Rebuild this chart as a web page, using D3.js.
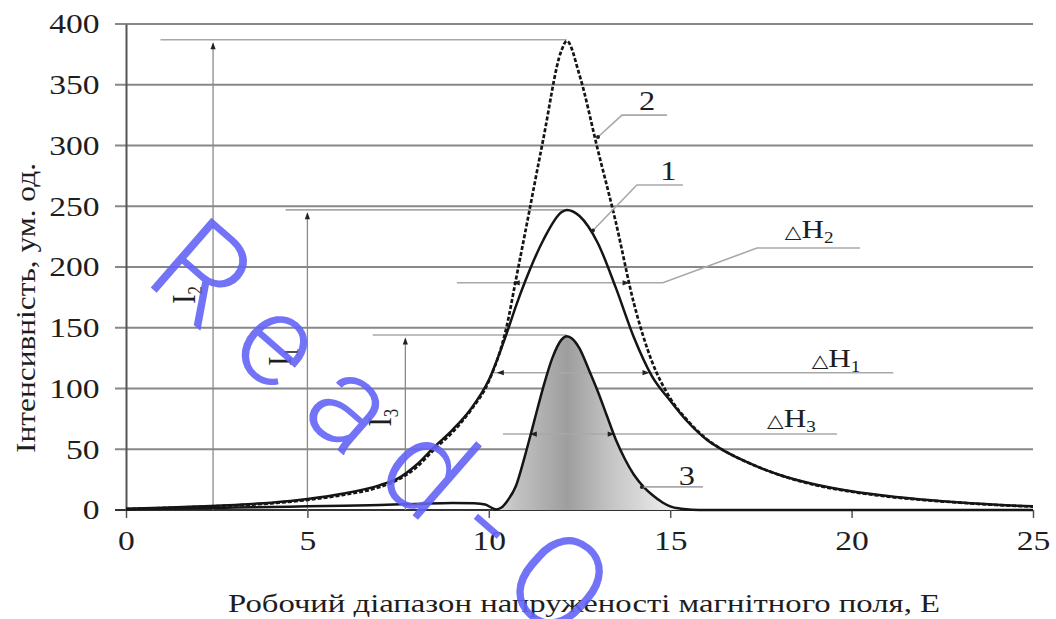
<!DOCTYPE html>
<html>
<head>
<meta charset="utf-8">
<script src="https://cdn.jsdelivr.net/npm/d3@7"></script>
<style>
  body { margin: 0; background: #fff; }
  text { font-family: "Liberation Serif", "Times New Roman", serif; fill: #1e1e1e; }
</style>
</head>
<body>
<div id="graphic"></div>
<script>
// field values (E) shared by curves 1 and 2
const fieldX = [0, 1, 2, 3, 4, 5, 6, 7, 7.5, 8, 8.5, 9, 9.5, 10, 10.5, 10.75, 11, 11.5, 12, 12.15, 12.5, 13, 13.5, 14, 14.5, 15, 15.5, 16, 16.5, 17, 17.5, 18, 19, 20, 21, 22, 23, 24, 25];
// curve 1 (solid)
const curve1 = [1, 1.8, 2.9, 4.2, 6, 9, 13.5, 20.5, 26, 37, 52, 66, 83, 107, 146, 168, 188, 222, 245, 247, 242, 220, 183, 142, 110, 90, 72, 58, 48.5, 41, 34.5, 29, 21, 15.5, 11.5, 8.5, 6.2, 4.3, 3];
// curve 2 (dashed)
const curve2 = [0.8, 1.6, 2.6, 3.8, 5.5, 8.3, 12.5, 19, 25, 35, 50, 64, 82, 106, 152, 190, 228, 305, 378, 386, 358, 297, 237, 170, 122, 92, 73, 58.5, 48.5, 41, 34.5, 29, 20.5, 15, 11, 8.2, 6, 4.1, 2.8];
// curve 3 (filled)
const field3X = [0, 1, 2, 3, 4, 5, 6, 7, 8, 9, 9.6, 9.9, 10.1, 10.2, 10.35, 10.5, 10.75, 11, 11.25, 11.5, 11.75, 12, 12.15, 12.3, 12.5, 12.75, 13, 13.25, 13.5, 13.75, 14, 14.3, 14.5, 14.8, 15, 15.3, 15.6, 16, 20, 25];
const curve3 = [0.5, 1, 1.5, 2, 2.5, 3, 3.5, 4.2, 5, 5.8, 5.5, 4.5, 1.5, 0.5, 2, 7, 20, 45, 73, 101, 125, 140, 143, 141, 133, 116, 98, 78, 58, 42, 29, 18, 12.5, 6, 3, 1, 0.2, 0, 0, 0];

const xTicks = [0, 5, 10, 15, 20, 25];
const yTicks = [0, 50, 100, 150, 200, 250, 300, 350, 400];

// peak intensities I1, I2, I3 and where their arrows stand
const peakNames = ["1", "2", "3"];
const peakValues = [247, 387, 144];
const peakX = 12.15;
const peakArrowX = [5.0, 2.4, 7.7];
const peakLineFrom = [4.4, 0.95, 6.8];
const peakLabelPos = [[4.55, 126], [1.9, 177], [7.3, 76]];

// half widths ΔH1, ΔH2, ΔH3
const halfLevel = [113, 187, 62.5];
const halfLeft = [10.22, 10.66, 11.13];
const halfRight = [14.43, 13.88, 13.47];

const margin = { top: 24, right: 23, bottom: 109, left: 126 },
  width = 1056 - margin.left - margin.right,
  height = 619 - margin.top - margin.bottom;

const svg = d3.select("#graphic").append("svg")
  .attr("width", width + margin.left + margin.right)
  .attr("height", height + margin.top + margin.bottom);

const defs = svg.append("defs");
const grad = defs.append("linearGradient")
  .attr("id", "fill3")
  .attr("gradientUnits", "userSpaceOnUse");

const g = svg.append("g")
  .attr("transform", `translate(${margin.left},${margin.top})`);

const x = d3.scaleLinear().domain([0, 25]).range([0, width]);
const y = d3.scaleLinear().domain([0, 400]).range([height, 0]);

grad.attr("x1", x(10.1)).attr("x2", x(16)).attr("y1", 0).attr("y2", 0);
[[0, "#e4e4e4"], [0.1, "#c4c4c4"], [0.35, "#9e9e9e"], [0.55, "#c4c4c4"], [0.8, "#e8e8e8"], [1, "#fcfcfc"]]
  .forEach(s => grad.append("stop").attr("offset", s[0]).attr("stop-color", s[1]));

// grid
g.selectAll(".grid")
  .data(yTicks)
  .enter().append("line")
  .attr("x1", -11).attr("x2", width)
  .attr("y1", d => y(d)).attr("y2", d => y(d))
  .attr("stroke", d => d === 0 ? "#333" : "#888")
  .attr("stroke-width", 2);

// axes
const yAxis = d3.axisLeft(y).tickValues(yTicks).tickSize(0).tickPadding(22).tickSizeOuter(0);
g.append("g")
  .call(yAxis)
  .call(a => {
    a.attr("font-family", null).attr("font-size", 28);
    a.select(".domain").attr("stroke", "#555").attr("stroke-width", 2);
    a.selectAll("text").attr("transform", "scale(1.2,1)");
  });

const xAxis = d3.axisBottom(x).tickValues(xTicks).tickSize(8).tickPadding(12).tickSizeOuter(0);
g.append("g")
  .attr("transform", `translate(0,${height})`)
  .call(xAxis)
  .call(a => {
    a.attr("font-family", null).attr("font-size", 28);
    a.select(".domain").remove();
    a.selectAll(".tick line").attr("stroke", "#555").attr("stroke-width", 1.5);
    a.selectAll("text").attr("transform", "scale(1.2,1)");
  });

// reference lines for I1..I3
const refColor = "#a8a8a8";
peakValues.forEach((v, i) => {
  g.append("line")
    .attr("x1", x(peakLineFrom[i])).attr("x2", x(peakX))
    .attr("y1", y(v)).attr("y2", y(v))
    .attr("stroke", refColor).attr("stroke-width", 1.6);
  const ax = x(peakArrowX[i]);
  g.append("line")
    .attr("x1", ax).attr("x2", ax)
    .attr("y1", y(0)).attr("y2", y(v - 3))
    .attr("stroke", "#8a8a8a").attr("stroke-width", 1.3);
  g.append("path")
    .attr("d", `M${ax},${y(v - 2)} l-2.6,7 l5.2,0 Z`)
    .attr("fill", "#222");
  const lp = peakLabelPos[i];
  const t = g.append("text")
    .attr("transform", `translate(${x(lp[0])},${y(lp[1])}) scale(1.2,1) rotate(-90)`)
    .attr("text-anchor", "middle")
    .attr("font-size", 28);
  t.append("tspan").text("I");
  t.append("tspan").attr("font-size", 17).attr("dy", 6).text(peakNames[i]);
});

// curve 3 fill
const pts3 = field3X.map((d, i) => ({ x: d, v: curve3[i] }));
g.append("path")
  .datum(pts3.filter(d => d.x >= 10.1 && d.x <= 16))
  .attr("fill", "url(#fill3)")
  .attr("d", d3.area().x(d => x(d.x)).y0(y(0)).y1(d => y(d.v)).curve(d3.curveMonotoneX));

// ΔH lines
const dhLabels = ["1", "2", "3"];
const dhLines = [
  [[10.1, 113], [21.15, 113]],
  [[9.12, 187], [14.8, 187], [17.39, 215.6], [20.23, 215.6]],
  [[10.39, 62.5], [19.6, 62.5]]
];
const dhLabelPos = [[18.9, 117.7], [18.16, 224], [17.67, 68.3]];
const lineGen = d3.line().x(d => x(d[0])).y(d => y(d[1]));
dhLines.forEach((pts, i) => {
  g.append("path").attr("d", lineGen(pts))
    .attr("fill", "none").attr("stroke", refColor).attr("stroke-width", 1.6);
  const yy = y(halfLevel[i]);
  g.append("path").attr("d", `M${x(halfLeft[i])},${yy} l7,-2.6 l0,5.2 Z`).attr("fill", "#222");
  g.append("path").attr("d", `M${x(halfRight[i])},${yy} l-7,-2.6 l0,5.2 Z`).attr("fill", "#222");
  const t = g.append("text")
    .attr("transform", `translate(${x(dhLabelPos[i][0])},${y(dhLabelPos[i][1])}) scale(1.2,1)`)
    .attr("font-size", 26);
  t.append("tspan").attr("font-size", 18).attr("font-family", "DejaVu Sans").text("\u25B3");
  t.append("tspan").text("H");
  t.append("tspan").attr("font-size", 16).attr("dy", 5).text(dhLabels[i]);
});

// curves 1, 2, 3
const pts1 = fieldX.map((d, i) => ({ x: d, v: curve1[i] }));
const pts2 = fieldX.map((d, i) => ({ x: d, v: curve2[i] }));
const curveLine = d3.line().x(d => x(d.x)).y(d => y(d.v)).curve(d3.curveMonotoneX);

g.append("path").datum(pts1)
  .attr("fill", "none").attr("stroke", "#151515").attr("stroke-width", 2.5)
  .attr("d", curveLine);
g.append("path").datum(pts2)
  .attr("fill", "none").attr("stroke", "#151515").attr("stroke-width", 2.7)
  .attr("stroke-dasharray", "4,2")
  .attr("d", curveLine);
g.append("path").datum(pts3)
  .attr("fill", "none").attr("stroke", "#151515").attr("stroke-width", 2.5)
  .attr("d", curveLine);

// curve labels with leaders
const curveLabels = [
  { name: "2", leader: [[13.01, 307], [13.67, 325], [14.91, 325]], at: [14.36, 329] },
  { name: "1", leader: [[12.87, 230], [14.08, 267.5], [15.35, 267.5]], at: [14.95, 272] },
  { name: "3", leader: [[14.22, 19], [15.9, 19]], at: [15.46, 20.6] }
];
curveLabels.forEach(c => {
  g.append("path").attr("d", lineGen(c.leader))
    .attr("fill", "none").attr("stroke", refColor).attr("stroke-width", 1.6);
  const s = c.leader[0];
  g.append("circle").attr("cx", x(s[0])).attr("cy", y(s[1])).attr("r", 2).attr("fill", "#222");
  g.append("text")
    .attr("transform", `translate(${x(c.at[0])},${y(c.at[1])}) scale(1.2,1)`)
    .attr("text-anchor", "middle")
    .attr("font-size", 27)
    .text(c.name);
});

// axis titles
svg.append("text")
  .attr("transform", "translate(35,308) rotate(-90)")
  .attr("text-anchor", "middle")
  .attr("font-size", 27)
  .attr("textLength", 290)
  .attr("lengthAdjust", "spacingAndGlyphs")
  .text("Інтенсивність, ум. од.");

svg.append("text")
  .attr("x", 584).attr("y", 612)
  .attr("text-anchor", "middle")
  .attr("font-size", 25)
  .attr("textLength", 712)
  .attr("lengthAdjust", "spacingAndGlyphs")
  .text("Робочий діапазон напруженості магнітного поля, Е");

// watermark
svg.append("text")
  .attr("transform", "translate(142,280) rotate(41)")
  .attr("font-size", 130)
  .attr("letter-spacing", 28)
  .style("font-family", "Roboto")
  .style("font-weight", 300)
  .style("fill", "#6464f6")
  .style("fill-opacity", 0.9)
  .text("Read-Only");
</script>
</body>
</html>
